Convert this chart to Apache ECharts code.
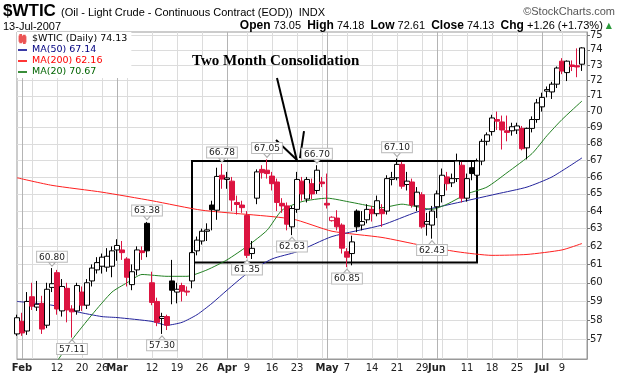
<!DOCTYPE html>
<html>
<head>
<meta charset="utf-8">
<title>$WTIC daily</title>
<script src="https://cdn.jsdelivr.net/npm/echarts@6/dist/echarts.min.js"></script>
<style>
  html, body { margin: 0; padding: 0; background: #fff; }
  #chart { width: 620px; height: 376px; }
</style>
</head>
<body>
<div id="chart"></div>
<script>
// $WTIC daily candles, Feb - Jul 2007, price axis is logarithmic like the original

const DATES = [
  '01-31',
  '02-01','02-02','02-05','02-06','02-07','02-08','02-09','02-12','02-13','02-14',
  '02-15','02-16','02-20','02-21','02-22','02-23','02-26','02-27','02-28',
  '03-01','03-02','03-05','03-06','03-07','03-08','03-09','03-12','03-13','03-14',
  '03-15','03-16','03-19','03-20','03-21','03-22','03-23','03-26','03-27','03-28',
  '03-29','03-30',
  '04-02','04-03','04-04','04-05','04-09','04-10','04-11','04-12','04-13','04-16',
  '04-17','04-18','04-19','04-20','04-23','04-24','04-25','04-26','04-27','04-30',
  '05-01','05-02','05-03','05-04','05-07','05-08','05-09','05-10','05-11','05-14',
  '05-15','05-16','05-17','05-18','05-21','05-22','05-23','05-24','05-25','05-29',
  '05-30','05-31',
  '06-01','06-04','06-05','06-06','06-07','06-08','06-11','06-12','06-13','06-14',
  '06-15','06-18','06-19','06-20','06-21','06-22','06-25','06-26','06-27','06-28',
  '06-29',
  '07-02','07-03','07-05','07-06','07-09','07-10','07-11','07-12','07-13',
  ''
];

const OPEN = [
  57.30,
  57.95,57.45,59.25,58.70,58.90,57.75,59.75,60.55,58.50,59.70,
  58.60,58.50,59.50,58.80,60.10,60.70,60.90,60.85,60.90,
  61.80,61.80,61.30,59.90,60.70,61.75,63.30,60.00,59.00,58.10,
  58.20,60.10,59.50,59.85,59.55,60.10,61.75,62.30,62.85,64.35,
  64.05,66.10,
  65.85,65.75,64.50,64.35,63.75,61.60,64.75,66.45,66.40,66.05,
  65.70,64.45,64.30,63.10,64.10,65.75,64.70,65.60,65.20,65.70,
  64.45,63.45,63.60,63.20,61.70,61.60,64.00,63.20,63.50,64.10,
  63.85,64.10,64.00,65.85,65.95,66.75,65.55,65.70,64.30,64.95,
  63.25,63.20,
  64.25,64.90,66.00,65.65,65.90,66.70,64.75,66.55,66.10,66.95,
  68.15,68.75,69.50,69.35,68.80,68.80,68.85,68.95,67.75,68.95,
  69.50,
  70.30,71.30,71.25,71.75,73.25,72.50,73.00,72.95,73.05
];
const HIGH = [
  58.30,
  58.40,59.50,60.00,60.10,59.30,60.00,60.80,60.70,60.20,60.00,
  58.80,60.00,59.80,60.20,61.00,61.40,61.60,61.90,62.00,
  62.40,62.30,61.40,61.00,62.00,62.00,63.38,60.60,59.20,58.40,
  58.30,61.25,60.00,60.00,59.80,61.80,62.55,63.00,63.30,64.60,
  66.55,66.78,
  66.30,66.00,64.90,64.60,64.00,62.30,66.45,66.70,67.05,66.30,
  65.90,64.75,64.50,64.30,66.30,66.00,66.00,65.90,66.70,66.00,
  66.20,63.70,64.05,63.30,61.90,62.60,64.10,64.00,64.40,64.30,
  64.90,64.40,66.10,66.30,67.10,66.90,66.30,65.90,65.40,65.10,
  63.90,64.30,
  65.20,66.50,66.30,66.20,67.40,66.90,66.20,66.90,67.10,68.30,
  68.70,69.80,70.00,69.75,69.75,69.30,69.30,69.10,69.00,69.70,
  70.80,
  71.20,71.60,71.90,72.90,73.45,73.30,73.30,74.10,74.18
];
const LOW = [
  57.20,
  57.20,57.25,58.55,58.50,57.30,57.60,59.50,58.30,58.20,57.90,
  57.11,58.30,58.50,58.60,59.80,60.50,60.50,60.60,60.30,
  61.20,61.25,59.80,59.60,60.40,61.25,61.40,58.80,57.70,57.30,
  57.50,58.85,58.90,59.00,59.30,59.70,61.50,62.10,62.30,62.90,
  63.50,65.30,
  65.30,64.00,63.80,63.90,61.35,61.30,64.40,65.90,65.90,65.20,
  64.00,63.90,62.90,62.63,63.90,64.60,64.50,64.70,65.00,65.40,
  64.15,63.40,62.90,61.60,60.85,60.95,62.80,62.90,63.30,63.40,
  63.70,63.10,63.80,65.50,65.80,65.30,65.20,64.20,64.00,63.00,
  62.60,62.43,
  63.60,64.50,65.20,65.40,65.70,64.50,64.55,65.80,65.60,66.70,
  67.90,68.50,68.85,67.65,68.15,68.50,68.60,67.60,67.05,68.70,
  69.30,
  70.00,70.90,70.80,71.50,72.40,71.95,72.60,72.20,72.61
];
const CLOSE = [
  58.14,
  57.35,59.00,58.75,58.85,57.55,59.65,59.95,58.60,59.80,58.55,
  58.45,59.85,58.80,60.00,60.80,61.10,61.40,61.45,61.75,
  62.05,61.65,60.30,60.60,61.80,61.65,61.75,58.95,57.90,58.20,
  57.75,59.60,59.65,59.55,59.50,61.65,62.35,62.85,62.93,64.08,
  66.03,65.87,
  65.94,64.64,64.38,64.20,61.50,61.89,66.30,66.25,66.20,65.60,
  64.50,64.30,63.25,64.15,65.85,65.00,65.85,65.00,66.40,65.60,
  64.35,63.65,63.10,61.90,61.40,62.25,63.10,63.40,64.10,63.85,
  64.60,63.85,65.90,65.95,66.75,65.45,65.75,64.35,65.10,63.10,
  63.40,64.00,
  65.00,66.10,65.60,65.90,66.95,64.75,65.90,66.20,66.95,68.15,
  68.55,69.60,69.40,68.85,68.70,69.05,69.10,67.70,68.95,69.50,
  70.55,
  70.90,71.40,71.75,72.80,72.60,73.25,72.90,72.87,74.13
];

// moving averages at a few dates
const MA50 = [
  ['01-31',59.00],['02-09',58.80],['02-16',58.45],['02-26',58.20],['03-01',58.15],
  ['03-12',57.95],['03-15',57.75],['03-20',57.90],['03-23',58.30],['03-28',58.90],
  ['04-02',59.60],['04-09',60.50],['04-16',61.30],['04-23',61.70],['05-02',62.55],
  ['05-16',63.20],['05-25',63.95],['06-05',64.35],['06-19',65.00],['06-27',65.40],
  ['07-05',66.00],['07-13',67.14]
];
const MA200 = [
  ['01-31',65.95],['02-09',65.50],['02-26',65.10],['03-12',64.60],['03-26',64.05],
  ['04-20',63.55],['05-02',62.85],['05-16',62.50],['05-29',62.05],['06-07',61.70],
  ['06-18',61.50],['06-27',61.55],['07-09',61.80],['07-13',62.16]
];
const MA20 = [
  ['02-12',55.90],['02-15',57.00],['02-22',58.30],['02-28',59.50],['03-05',60.00],
  ['03-08',60.45],['03-15',60.35],['03-21',60.35],['03-27',60.70],['04-02',61.25],
  ['04-09',62.00],['04-13',62.90],['04-18',64.05],['04-24',64.55],['05-01',64.75],
  ['05-08',64.50],['05-16',64.20],['05-22',64.40],['05-25',64.25],['05-31',64.10],
  ['06-05',64.40],['06-11',65.00],['06-15',65.40],['06-21',66.25],['06-28',67.40],
  ['07-03',68.50],['07-09',69.50],['07-13',70.67]
];

// highs / lows that carry a price tag
const CALLOUTS = [
  ['02-09','high'],['02-15','low'],['03-09','high'],['03-14','low'],
  ['03-30','high'],['04-09','low'],['04-13','high'],['04-20','low'],
  ['04-27','high'],['05-07','low'],['05-21','high'],['05-31','low']
];

const Y_TICKS = [57,58,59,60,61,62,63,64,65,66,67,68,69,70,71,72,73,74,75];
const MONTHS = { '02-01':'Feb', '03-01':'Mar', '04-02':'Apr', '05-01':'May', '06-01':'Jun', '07-02':'Jul' };
const WEEKS = ['02-05','02-12','02-20','02-26','03-05','03-12','03-19','03-26','04-09','04-16',
  '04-23','04-30','05-07','05-14','05-21','05-29','06-04','06-11','06-18','06-25','07-09'];
const WEEK_LABELS = ['02-12','02-20','02-26','03-12','03-19','03-26','04-09','04-16','04-23',
  '05-07','05-14','05-21','05-29','06-11','06-18','06-25','07-09'];

const BOX = { from: '03-22', to: '06-13', top: 66.95, bottom: 61.1 };
const ARROW_AT = '04-23';

const RED = '#dc1440';
const FONT = '"DejaVu Sans", Verdana, sans-serif';
const L = Math.log;

const chart = echarts.init(document.getElementById('chart'));

const candles = CLOSE.map((c, i) => {
  const o = OPEN[i];
  const prev = i ? CLOSE[i - 1] : o;
  const col = c < prev ? RED : '#000';
  const fill = c > o ? '#fff' : col;
  return {
    value: [L(o), L(c), L(LOW[i]), L(HIGH[i])],
    itemStyle: { color: fill, color0: fill, borderColor: col, borderColor0: col }
  };
});

const tags = CALLOUTS.map(([d, kind]) => {
  const i = DATES.indexOf(d);
  const v = kind === 'high' ? HIGH[i] : LOW[i];
  const up = kind === 'high';
  return {
    coord: [d, L(v)],
    value: v.toFixed(2),
    symbolRotate: up ? 180 : 0,
    symbolOffset: [0, up ? -4 : 4],
    label: { position: up ? 'top' : 'bottom' }
  };
});

const last = CLOSE.length - 1;
const chg = CLOSE[last] - CLOSE[last - 1];
const LAST = {
  '$WTIC (Daily)': CLOSE[last].toFixed(2),
  'MA(50)': MA50[MA50.length - 1][1].toFixed(2),
  'MA(200)': MA200[MA200.length - 1][1].toFixed(2),
  'MA(20)': MA20[MA20.length - 1][1].toFixed(2)
};

function maSeries(name, pts, color) {
  return {
    name, type: 'line', z: 2,
    data: pts.map(([d, v]) => [d, L(v)]),
    showSymbol: false, smooth: 0.2, silent: true,
    lineStyle: { color, width: 1 },
    itemStyle: { color }
  };
}

const ticks = Y_TICKS.map(L);

chart.setOption({
  animation: false,
  backgroundColor: '#fff',
  grid: { left: 17, right: 33, top: 32, bottom: 17, show: true, borderColor: '#999', borderWidth: 1 },
  legend: {
    orient: 'vertical', left: 17, top: 32,
    padding: [2, 4, 1, 1], itemGap: 1, itemWidth: 9, itemHeight: 8,
    backgroundColor: '#fff', selectedMode: false,
    textStyle: { fontSize: 9.5, fontFamily: FONT },
    formatter: (n) => n + ' ' + LAST[n],
    data: [
      { name: '$WTIC (Daily)', icon: 'path://M1,0V10H2V0ZM0,2H3V8H0ZM6,1V11H7V1ZM5,3H8V9H5Z', itemStyle: { color: '#000' }, textStyle: { color: '#000' } },
      { name: 'MA(50)', icon: 'path://M0,0H10V2H0Z', textStyle: { color: '#000080' } },
      { name: 'MA(200)', icon: 'path://M0,0H10V2H0Z', textStyle: { color: '#ff0000' } },
      { name: 'MA(20)', icon: 'path://M0,0H10V2H0Z', textStyle: { color: '#006400' } }
    ]
  },
  xAxis: [
    {
      type: 'category', data: DATES, boundaryGap: false,
      axisLine: { show: true, lineStyle: { color: '#999' } },
      axisTick: { show: false },
      axisLabel: {
        interval: (i, v) => !!MONTHS[v] || WEEK_LABELS.includes(v),
        formatter: (v) => MONTHS[v] ? '{b|' + MONTHS[v] + '}' : String(+v.slice(3)),
        fontSize: 10, fontFamily: FONT, color: '#222', margin: 4,
        rich: { b: { fontWeight: 'bold', fontSize: 10, fontFamily: FONT, color: '#222' } }
      },
      splitLine: { show: true, interval: (i, v) => WEEKS.includes(v), lineStyle: { color: '#dcdcdc' } }
    },
    {
      type: 'category', data: DATES, boundaryGap: false,
      axisLine: { show: false }, axisTick: { show: false }, axisLabel: { show: false },
      splitLine: { show: true, interval: (i, v) => !!MONTHS[v], lineStyle: { color: '#b4b4b4' } }
    }
  ],
  yAxis: {
    type: 'value', position: 'right',
    min: L(56.02), max: L(75.2),
    axisLine: { show: true, lineStyle: { color: '#999' } },
    axisTick: { show: true, length: 3, customValues: ticks, lineStyle: { color: '#777' } },
    axisLabel: {
      customValues: ticks,
      formatter: (v) => String(Math.round(Math.exp(v))),
      fontSize: 10, fontFamily: FONT, color: '#222', margin: 3
    },
    splitLine: { show: true, lineStyle: { color: '#dcdcdc' } }
  },
  series: [
    maSeries('MA(200)', MA200, '#ff2020'),
    maSeries('MA(50)', MA50, '#24249c'),
    maSeries('MA(20)', MA20, '#238023'),
    {
      name: '$WTIC (Daily)', type: 'candlestick', z: 3,
      barWidth: 5,
      data: candles,
      itemStyle: { borderWidth: 1 },
      markArea: {
        silent: true,
        itemStyle: { color: 'rgba(0,0,0,0)', borderColor: '#000', borderWidth: 2 },
        data: [[{ coord: [BOX.from, L(BOX.top)] }, { coord: [BOX.to, L(BOX.bottom)] }]]
      },
      markPoint: {
        silent: true,
        symbol: 'triangle', symbolSize: [7, 4],
        itemStyle: { color: '#fff', borderColor: '#aaa', borderWidth: 1 },
        label: {
          show: true, formatter: (p) => p.value, distance: 0,
          fontSize: 9, fontFamily: FONT, color: '#222',
          backgroundColor: '#fff', borderColor: '#bbb', borderWidth: 1, padding: [1, 2, 0, 2]
        },
        data: tags
      }
    }
  ]
});

// header texts and the hand drawn arrow
const tip = chart.convertToPixel({ xAxisIndex: 0, yAxisIndex: 0 }, [ARROW_AT, L(BOX.top)]);
const hdr = '{b|Open} ' + OPEN[last].toFixed(2) + '  {b|High} ' + HIGH[last].toFixed(2) +
  '  {b|Low} ' + LOW[last].toFixed(2) + '  {b|Close} ' + CLOSE[last].toFixed(2) +
  '  {b|Chg} ' + (chg >= 0 ? '+' : '') + chg.toFixed(2) +
  ' (' + (chg >= 0 ? '+' : '') + (chg / CLOSE[last - 1] * 100).toFixed(2) + '%) {g|▲}';

chart.setOption({
  graphic: [
    { type: 'text', left: 3, top: 3, style: { text: '$WTIC', font: 'bold 17px "Liberation Sans", Arial', fill: '#000' } },
    { type: 'text', left: 61, top: 7, style: { text: '(Oil - Light Crude - Continuous Contract (EOD))  INDX', font: '11px "Liberation Sans", Arial', fill: '#000' } },
    { type: 'text', right: 5, top: 6, style: { text: '©StockCharts.com', font: '11px "Liberation Sans", Arial', fill: '#555' } },
    { type: 'text', left: 3, top: 21, style: { text: '13-Jul-2007', font: '11px "Liberation Sans", Arial', fill: '#000' } },
    {
      type: 'text', right: 8, top: 20,
      style: {
        text: hdr, font: '11px "Liberation Sans", Arial', fill: '#000',
        rich: {
          b: { fontWeight: 'bold', fontSize: 12, fontFamily: '"Liberation Sans", Arial' },
          g: { fontSize: 8, fill: '#2a9a3a', fontFamily: FONT }
        }
      }
    },
    { type: 'text', left: 192, top: 54, style: { text: 'Two Month Consolidation', font: 'bold 15px "Liberation Serif", "Times New Roman", serif', fill: '#000' } },
    { type: 'line', shape: { x1: tip[0] - 20, y1: tip[1] - 83, x2: tip[0], y2: tip[1] }, style: { stroke: '#000', lineWidth: 2 } },
    { type: 'line', shape: { x1: tip[0] - 21, y1: tip[1] - 21, x2: tip[0], y2: tip[1] - 1 }, style: { stroke: '#000', lineWidth: 2 } },
    { type: 'line', shape: { x1: tip[0] + 7, y1: tip[1] - 30, x2: tip[0] + 3, y2: tip[1] - 3 }, style: { stroke: '#000', lineWidth: 2 } }
  ]
});
</script>
</body>
</html>
